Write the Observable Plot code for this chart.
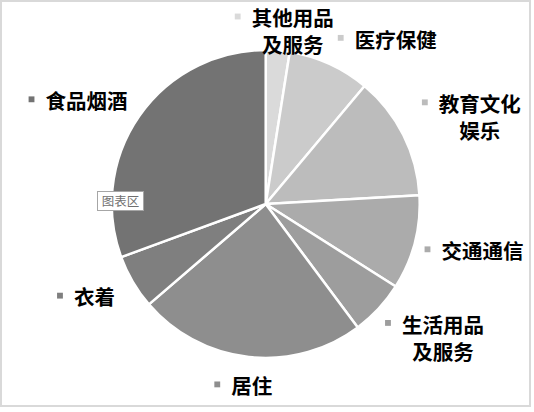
<!DOCTYPE html>
<html>
<head>
<meta charset="utf-8">
<script src="https://cdn.jsdelivr.net/npm/d3@7"></script>
<script src="https://cdn.jsdelivr.net/npm/@observablehq/plot@0.6"></script>
<style>
  body { margin: 0; background: #fff; }
  #wrap { position: relative; width: 534px; height: 412px; overflow: hidden; font-family: "Noto Sans CJK SC", sans-serif; }
  #chart { position: absolute; left: 0; top: 0; }
  #frame { position: absolute; left: 0; top: 0; width: 527px; height: 403px; border: 2px solid #d9d9d9; pointer-events: none; }
  #tip { position: absolute; left: 97px; top: 191px; width: 45px; height: 18px; border: 1px solid #a6a6a6; background: #fff;
         font-size: 12.5px; color: #6f6f6f; line-height: 18px; text-align: center; font-family: "Noto Sans CJK SC", sans-serif; }
</style>
</head>
<body>
<div id="wrap"><div id="chart"></div><div id="frame"></div><div id="tip">图表区</div></div>
<script>
// ---- data ----
const categories = ["食品烟酒", "衣着", "居住", "生活用品及服务", "交通通信", "教育文化娱乐", "医疗保健", "其他用品及服务"];
const shares = [30.6, 5.7, 23.9, 5.8, 9.9, 13.0, 8.6, 2.5];
const grays = ["#737373", "#7f7f7f", "#8e8e8e", "#9d9d9d", "#ababab", "#bcbcbc", "#cbcbcb", "#dadada"];

// ---- layout ----
const W = 534, H = 412, CX = 265.7, CY = 204, R = 154;
const FS = 20.5, LH = 27, A = 180, B = 170, GAP = 4, EDGE = 8, TOP = 5;

// slices go clockwise from 12 o'clock, last category first
const order = d3.range(categories.length).reverse();
const arcs = d3.pie().sort(null).value(i => shares[i])(order);

// label boxes placed outside each slice's mid-angle; kept inside the chart; simple collision avoidance
const labels = arcs.map(a => {
  const i = a.data, name = categories[i];
  const lines = name.length > 4 ? [name.slice(0, 4), name.slice(4)] : [name];
  const mid = (a.startAngle + a.endAngle) / 2;
  const tw = FS * d3.max(lines, l => l.length);
  const w = 17 + tw, h = 24 + LH * (lines.length - 1);
  let cx = (A + w / 2) * Math.sin(mid), cy = -(B + h / 2) * Math.cos(mid);
  cx = Math.max(EDGE - CX + w / 2, Math.min(W - EDGE - 3 - CX - w / 2, cx));
  cy = Math.max(TOP - CY + h / 2, Math.min(H - EDGE - CY - h / 2, cy));
  return {i, lines, mid, tw, w, h, cx, cy};
});
const placed = [];
for (const L of labels) {
  for (const P of placed) {
    const ox = Math.min(L.cx + L.w / 2, P.cx + P.w / 2) - Math.max(L.cx - L.w / 2, P.cx - P.w / 2);
    const oy = Math.min(L.cy + L.h / 2, P.cy + P.h / 2) - Math.max(L.cy - L.h / 2, P.cy - P.h / 2);
    if (ox > -GAP && oy > 0) L.cx += (Math.sin(L.mid) >= 0 ? 1 : -1) * (ox + GAP);
  }
  placed.push(L);
}

function pieMark(index, scales) {
  const x0 = scales.x(0), y0 = scales.y(0), rad = scales.x(1) - scales.x(0);
  const arc = d3.arc().innerRadius(0).outerRadius(rad);
  const g = d3.create("svg:g").attr("transform", `translate(${x0},${y0})`);
  g.selectAll("path").data(arcs).join("path")
    .attr("d", arc)
    .attr("fill", d => grays[d.data])
    .attr("stroke", "#fff")
    .attr("stroke-width", 2.5)
    .attr("stroke-linejoin", "round");
  return g.node();
}

const chart = Plot.plot({
  width: W, height: H, margin: 0,
  x: {domain: [-CX / R, (W - CX) / R], axis: null},
  y: {domain: [-(H - CY) / R, CY / R], axis: null},
  color: {type: "identity"},
  style: {background: "transparent", fontFamily: "'Noto Sans CJK SC', sans-serif"},
  marks: [
    pieMark,
    Plot.dot(labels, {
      x: d => (d.cx - d.w / 2 + 3) / R,
      y: d => -(d.cy - d.h / 2 + 11) / R,
      symbol: "square", r: 3.3, fill: d => grays[d.i], stroke: null
    }),
    Plot.text(labels, {
      x: d => (d.cx - d.w / 2 + 17 + d.tw / 2) / R,
      y: d => -d.cy / R,
      text: d => d.lines.join("\n"),
      fontSize: FS, fontWeight: "bold", lineHeight: LH / FS,
      textAnchor: "middle", lineAnchor: "middle", fill: "#000",
      fontFamily: "'Noto Sans CJK SC', sans-serif"
    })
  ]
});
document.getElementById("chart").appendChild(chart);
</script>
</body>
</html>
